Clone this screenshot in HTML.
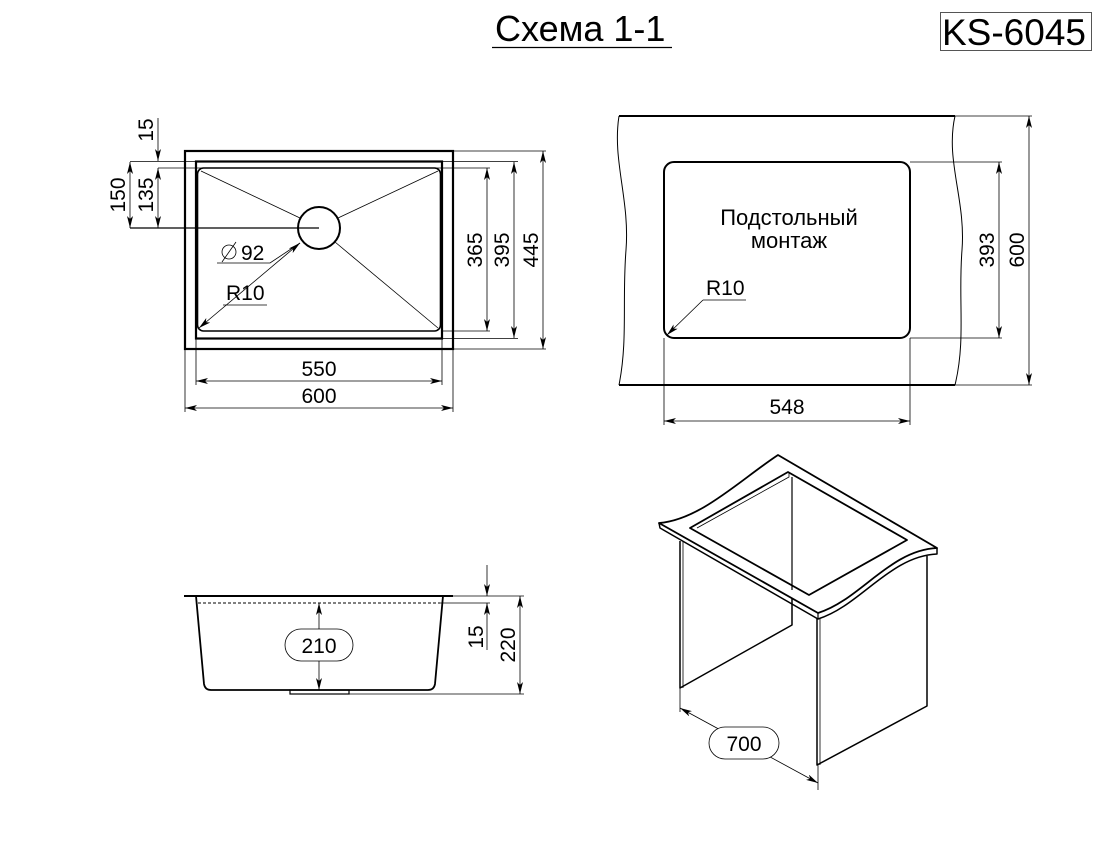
<!DOCTYPE html>
<html><head><meta charset="utf-8"><style>
html,body{margin:0;padding:0;background:#fff;}
svg{display:block;}
text{font-family:"Liberation Sans",Arial,sans-serif;fill:#000;}
</style></head><body>
<svg width="1109" height="847" viewBox="0 0 1109 847" xmlns="http://www.w3.org/2000/svg">
<defs>
<marker id="a" viewBox="0 0 12 6" refX="12" refY="3" markerWidth="12" markerHeight="6" markerUnits="userSpaceOnUse" orient="auto-start-reverse">
<path d="M0,0 L12,3 L0,6 L3,3 z" fill="#000"/></marker>
</defs>
<!-- title -->
<text x="495" y="41" font-size="36">Схема 1-1</text>
<line x1="492" y1="47.5" x2="672" y2="47.5" stroke="#000" stroke-width="1.2"/>
<rect x="940.5" y="12.5" width="151" height="38" fill="none" stroke="#555" stroke-width="1"/>
<text x="942" y="45" font-size="37">KS-6045</text>

<g stroke="#000" fill="none">
<!-- TOP LEFT VIEW -->
<rect x="185" y="151" width="268" height="198" stroke-width="2.2"/>
<rect x="196" y="161.5" width="246" height="177" stroke-width="2.2"/>
<rect x="197.5" y="168" width="243" height="163" rx="6" stroke-width="1.6"/>
<circle cx="319" cy="228" r="21" stroke-width="2"/>
<g stroke-width="0.8">
<line x1="201" y1="171" x2="300" y2="218"/>
<line x1="438" y1="171" x2="338" y2="218"/>
<line x1="438" y1="328" x2="335" y2="242"/>
</g>
<line x1="130" y1="228" x2="319" y2="228" stroke-width="1.3"/>
<g stroke-width="0.8">
<line x1="130" y1="161.5" x2="196" y2="161.5"/>
<line x1="158" y1="168" x2="490" y2="168"/>
<line x1="442" y1="161.5" x2="518" y2="161.5"/>
<line x1="453" y1="151" x2="546" y2="151"/>
<line x1="441" y1="331" x2="490" y2="331"/>
<line x1="442" y1="338.5" x2="518" y2="338.5"/>
<line x1="453" y1="349" x2="546" y2="349"/>
<line x1="130" y1="162" x2="130" y2="228" marker-start="url(#a)" marker-end="url(#a)"/>
<line x1="158" y1="168" x2="158" y2="228" marker-start="url(#a)" marker-end="url(#a)"/>
<line x1="158" y1="118" x2="158" y2="161" marker-end="url(#a)"/>
<line x1="487" y1="168" x2="487" y2="331" marker-start="url(#a)" marker-end="url(#a)"/>
<line x1="514" y1="162" x2="514" y2="338" marker-start="url(#a)" marker-end="url(#a)"/>
<line x1="543" y1="151" x2="543" y2="349" marker-start="url(#a)" marker-end="url(#a)"/>
<line x1="196" y1="339" x2="196" y2="385"/>
<line x1="442" y1="339" x2="442" y2="385"/>
<line x1="185" y1="349" x2="185" y2="412"/>
<line x1="453" y1="349" x2="453" y2="412"/>
<line x1="196" y1="381" x2="442" y2="381" marker-start="url(#a)" marker-end="url(#a)"/>
<line x1="185" y1="408" x2="453" y2="408" marker-start="url(#a)" marker-end="url(#a)"/>
<polyline points="217,263 270,263 300,243"/>
<line x1="199" y1="328" x2="300" y2="243" marker-start="url(#a)" marker-end="url(#a)"/>
<line x1="223" y1="305" x2="267" y2="305"/>
</g>
</g>
<g font-size="21">
<text x="319" y="376" text-anchor="middle">550</text>
<text x="319" y="403" text-anchor="middle">600</text>
<text x="241" y="260">92</text>
<text x="226" y="300">R10</text>
<text transform="translate(482,250) rotate(-90)" text-anchor="middle">365</text>
<text transform="translate(509,250) rotate(-90)" text-anchor="middle">395</text>
<text transform="translate(538,250) rotate(-90)" text-anchor="middle">445</text>
<text transform="translate(125,195) rotate(-90)" text-anchor="middle">150</text>
<text transform="translate(153,195) rotate(-90)" text-anchor="middle">135</text>
<text transform="translate(153,130) rotate(-90)" text-anchor="middle">15</text>
</g>
<circle cx="229" cy="252" r="7" fill="none" stroke="#000" stroke-width="0.8"/>
<line x1="222" y1="262" x2="236" y2="242" stroke="#000" stroke-width="0.8"/>

<!-- TOP RIGHT VIEW -->
<g stroke="#000" fill="none">
<line x1="619" y1="116" x2="955" y2="116" stroke-width="2"/>
<line x1="619" y1="385" x2="955" y2="385" stroke-width="2"/>
<path d="M619,116 C612,160 630,200 626,250 C622,300 628,340 619,385" stroke-width="1"/>
<path d="M955,116 C945,160 966,200 962,250 C958,300 966,340 955,385" stroke-width="1"/>
<rect x="664" y="162" width="246" height="176" rx="10" stroke-width="2"/>
<g stroke-width="0.8">
<line x1="910" y1="162" x2="1002" y2="162"/>
<line x1="910" y1="338" x2="1002" y2="338"/>
<line x1="955" y1="116" x2="1032" y2="116"/>
<line x1="955" y1="385" x2="1032" y2="385"/>
<line x1="999" y1="162" x2="999" y2="338" marker-start="url(#a)" marker-end="url(#a)"/>
<line x1="1029" y1="116" x2="1029" y2="385" marker-start="url(#a)" marker-end="url(#a)"/>
<line x1="664" y1="338" x2="664" y2="425"/>
<line x1="910" y1="338" x2="910" y2="425"/>
<line x1="664" y1="421" x2="910" y2="421" marker-start="url(#a)" marker-end="url(#a)"/>
<line x1="703" y1="300" x2="746" y2="300"/>
<line x1="703" y1="300" x2="667" y2="335" marker-end="url(#a)"/>
</g>
</g>
<g font-size="21">
<text x="789" y="225" text-anchor="middle" font-size="22">Подстольный</text>
<text x="789" y="248" text-anchor="middle" font-size="22">монтаж</text>
<text x="706" y="295">R10</text>
<text x="787" y="414" text-anchor="middle">548</text>
<text transform="translate(994,250) rotate(-90)" text-anchor="middle">393</text>
<text transform="translate(1024,250) rotate(-90)" text-anchor="middle">600</text>
</g>

<!-- BOTTOM LEFT SECTION -->
<g stroke="#000" fill="none">
<line x1="184" y1="596" x2="453" y2="596" stroke-width="2"/>
<line x1="198" y1="603" x2="440" y2="603" stroke-width="1" stroke-dasharray="3,2"/>
<path d="M196,596 L204,684 Q205,690 211,690 L428,690 Q434,690 435,684 L443,596" stroke-width="1.8"/>
<rect x="290" y="690" width="59" height="4" stroke-width="1.2"/>
<g stroke-width="0.8">
<line x1="453" y1="596" x2="524" y2="596"/>
<line x1="440" y1="603" x2="490" y2="603"/>
<line x1="349" y1="694" x2="524" y2="694"/>
<line x1="487" y1="565" x2="487" y2="596" marker-end="url(#a)"/>
<line x1="487" y1="650" x2="487" y2="603" marker-end="url(#a)"/>
<line x1="520" y1="596" x2="520" y2="694" marker-start="url(#a)" marker-end="url(#a)"/>
<line x1="319" y1="603" x2="319" y2="690" marker-start="url(#a)" marker-end="url(#a)"/>
</g>
<rect x="285" y="629" width="68" height="32" rx="16" fill="#fff" stroke-width="0.8"/>
</g>
<g font-size="21">
<text x="319" y="653" text-anchor="middle">210</text>
<text transform="translate(483,637) rotate(-90)" text-anchor="middle">15</text>
<text transform="translate(515,645) rotate(-90)" text-anchor="middle">220</text>
</g>

<!-- ISO VIEW -->
<g stroke="#000" fill="none" stroke-linejoin="round">
<path d="M680,541 L680,688 L792,625 L792,475" stroke-width="1.5"/>
<line x1="683" y1="541" x2="683" y2="688" stroke-width="0.8"/>
<path d="M817,618 L817,765 L927,706 L927,556" stroke-width="1.5"/>
<line x1="820" y1="618" x2="820" y2="765" stroke-width="0.8"/>
<path d="M659,523 C700,520 740,480 778,455 L937,548 C890,550 860,600 818,613 Z" fill="#fff" stroke-width="1.8"/>
<path d="M659,523 L660,528 L818,619 C860,606 890,556 937,554 L937,548" stroke-width="1.5"/>
<line x1="818" y1="613" x2="818" y2="619" stroke-width="1.2"/>
<path d="M690,528 L788,472 L907,540 L809,595 Z" stroke-width="1.8"/>
<path d="M697,528 L789,477 L789,472" stroke-width="0.8"/>
<line x1="792" y1="477" x2="792" y2="590" stroke-width="1.2"/>
<g stroke-width="0.8">
<line x1="680" y1="688" x2="680" y2="712"/>
<line x1="818" y1="765" x2="818" y2="790"/>
<line x1="680" y1="708" x2="818" y2="783" marker-start="url(#a)" marker-end="url(#a)"/>
</g>
<rect x="709" y="727" width="70" height="32" rx="16" fill="#fff" stroke-width="0.8"/>
</g>
<text x="744" y="751" font-size="21" text-anchor="middle">700</text>
</svg>
</body></html>
